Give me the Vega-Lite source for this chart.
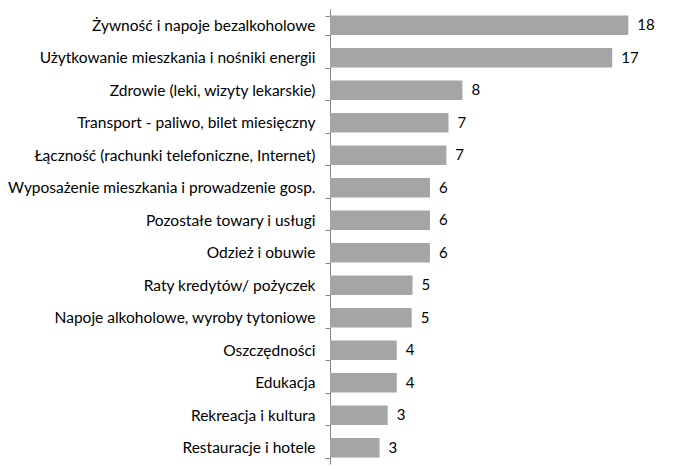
{
  "$schema": "https://vega.github.io/schema/vega-lite/v6.json",
  "autosize": "none",
  "width": 348,
  "height": 455,
  "padding": {"left": 330, "top": 9, "right": 5, "bottom": 5},
  "background": "white",
  "config": {"view": {"stroke": null}, "font": "Lato"},
  "data": {"values": [
    {"kategoria": "Żywność i napoje bezalkoholowe", "wartosc": 18.0, "etykieta": "18"},
    {"kategoria": "Użytkowanie mieszkania i nośniki energii ", "wartosc": 17.03, "etykieta": "17"},
    {"kategoria": "Zdrowie (leki, wizyty lekarskie)", "wartosc": 7.99, "etykieta": "8"},
    {"kategoria": "Transport - paliwo, bilet miesięczny", "wartosc": 7.15, "etykieta": "7"},
    {"kategoria": "Łączność (rachunki telefoniczne, Internet)", "wartosc": 7.02, "etykieta": "7"},
    {"kategoria": "Wyposażenie mieszkania i prowadzenie gosp.", "wartosc": 6.03, "etykieta": "6"},
    {"kategoria": "Pozostałe towary i usługi", "wartosc": 6.03, "etykieta": "6"},
    {"kategoria": "Odzież i obuwie", "wartosc": 6.03, "etykieta": "6"},
    {"kategoria": "Raty kredytów/ pożyczek", "wartosc": 4.98, "etykieta": "5"},
    {"kategoria": "Napoje alkoholowe, wyroby tytoniowe", "wartosc": 4.93, "etykieta": "5"},
    {"kategoria": "Oszczędności", "wartosc": 4.03, "etykieta": "4"},
    {"kategoria": "Edukacja", "wartosc": 4.03, "etykieta": "4"},
    {"kategoria": "Rekreacja i kultura", "wartosc": 3.48, "etykieta": "3"},
    {"kategoria": "Restauracje i hotele", "wartosc": 2.99, "etykieta": "3"}
  ]},
  "encoding": {
    "y": {
      "field": "kategoria", "type": "nominal", "sort": null,
      "scale": {"paddingInner": 0.4, "paddingOuter": 0.2},
      "axis": {
        "title": null, "domainColor": "#868686", "tickColor": "#868686",
        "tickBand": "extent", "tickSize": 5, "labelPadding": 10,
        "labelFont": "Lato", "labelFontSize": 15.5, "labelColor": "#000000",
        "labelLimit": 340
      }
    },
    "x": {
      "field": "wartosc", "type": "quantitative",
      "scale": {"domain": [0, 21], "nice": false},
      "axis": null
    }
  },
  "layer": [
    {"mark": {"type": "bar", "color": "#a5a5a5"}},
    {"mark": {"type": "text", "align": "left", "dx": 9, "fontSize": 15, "font": "Lato", "color": "#000000"},
     "encoding": {"text": {"field": "etykieta"}}}
  ]
}
